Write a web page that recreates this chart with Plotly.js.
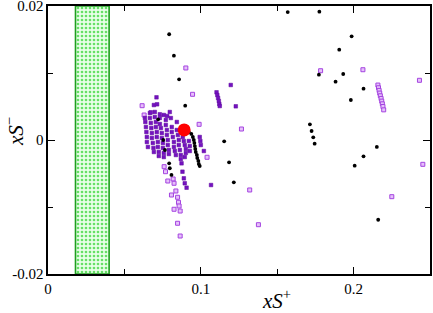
<!DOCTYPE html>
<html><head><meta charset="utf-8">
<script src="https://cdn.plot.ly/plotly-3.0.1.min.js"></script>
<style>body{margin:0;padding:0;background:#fff}#plot{width:433px;height:313px}</style>
</head><body><div id="plot"></div>
<script>
// Excluded band (green hatched rectangle)
var bandX = [0.018, 0.04, 0.04, 0.018, 0.018];
var bandY = [-0.02, -0.02, 0.02, 0.02, -0.02];

// Dense cluster: dark purple filled squares
var darkX = [0.0634,0.0637,0.0641,0.0644,0.0647,0.0647,0.0654,
 0.0667,0.0667,0.0673,0.0676,0.0680,0.0680,0.0686,0.0690,0.0693,
 0.0693,0.0699,0.0699,0.0706,0.0706,0.0712,0.0712,0.0719,0.0719,0.0725,0.0725,
 0.0732,0.0732,0.0739,0.0745,0.0745,0.0752,0.0752,0.0758,0.0758,
 0.0758,0.0771,0.0771,0.0778,0.0778,0.0784,0.0784,0.0791,0.0791,
 0.0797,0.0804,0.0810,0.0810,0.0817,0.0824,0.0824,0.0830,0.0837,
 0.0843,0.0843,0.0850,0.0856,0.0856,0.0863,0.0869,0.0869,
 0.0882,0.0889,0.0895,0.0902,0.0902,0.0895,
 0.0922,0.0928,0.0928,
 0.0993,0.0997,0.1000,0.1020,
 0.0874,0.0880,0.0889,0.0895,0.0907,
 0.0710,0.0714,0.0673,0.0732,0.0780,
 0.1103,0.1108,0.1113,0.1118,0.1121,0.1124,
 0.1196,0.1229,0.1067];
var darkY = [0.00328,0.00269,0.00194,0.00119,0.00045,-0.0003,-0.00104,
 0.00403,0.00328,0.00254,0.00179,0.00104,0.0003,-0.00045,-0.00119,-0.00179,
 0.00522,0.00418,0.00343,0.00269,0.00194,0.00119,0.00045,-0.0003,-0.00104,-0.00179,-0.00239,
 0.00328,0.00239,0.00179,0.00104,0.0003,-0.00045,-0.00119,-0.00194,-0.00254,
 0.00373,0.00299,0.00224,0.00149,0.00075,0.0,-0.00075,-0.00149,-0.00209,
 0.00418,0.00328,0.00194,0.00119,0.00045,-0.0003,-0.00104,-0.00164,-0.00224,
 0.00269,0.00149,0.00075,0.0,-0.00075,-0.00149,-0.00224,-0.00284,
 0.00045,-0.00015,-0.00075,-0.00134,-0.00194,-0.00254,
 -0.00015,-0.0009,-0.00164,
 0.00045,-0.00015,-0.00075,-0.00164,
 -0.00348,-0.00473,-0.00572,-0.00646,-0.00712,
 0.00637,0.00533,0.00413,0.00384,0.00358,
 0.00712,0.00672,0.00627,0.00582,0.00537,0.00507,
 0.00821,0.00503,-0.00672];

// Light purple open squares
var lightX = [0.0616,0.0629,0.0902,0.0946,0.0989,0.1266,0.1041,0.1320,0.1377,
 0.0760,0.0769,0.0784,0.0819,0.0825,0.0837,0.0808,0.0848,0.0854,0.0858,0.0825,0.0865,0.0848,0.0865,
 0.1784,0.2061,0.2431,0.2453,0.2250,
 0.2159,0.2163,0.2167,0.2171,0.2175,0.2180,0.2184,0.2188,0.2192,0.2197];
var lightY = [0.00512,0.00373,0.01075,0.00682,0.00234,0.00164,-0.00258,-0.00746,-0.01264,
 -0.00398,-0.00473,-0.00612,-0.00582,-0.00646,-0.00761,-0.00821,-0.00855,-0.0093,-0.00985,-0.01034,-0.0106,-0.01243,-0.01433,
 0.01034,0.01049,0.00891,-0.00363,-0.00846,
 0.0082,0.0078,0.0074,0.0070,0.0066,0.0062,0.0058,0.0054,0.0050,0.0045];

// Black dots
var blackX = [0.0793,0.0824,0.0858,0.0898,0.1153,0.1185,0.1216,
 0.0721,0.0754,0.0765,0.0793,0.0797,0.0808,
 0.0922,0.0938,0.0948,0.0954,0.0958,0.0961,0.0964,0.0967,0.0974,0.0977,0.0984,0.0987,0.0993,
 0.1569,0.1776,0.1987,0.1906,0.1773,0.1932,0.1882,0.2065,0.1982,
 0.1714,0.1725,0.1736,0.1745,0.2152,0.2065,0.2007,0.2161];
var blackY = [0.01578,0.01258,0.00905,0.00512,-0.0002,-0.00333,-0.00632,
 0.00309,0.0,-0.00149,-0.00348,-0.00422,-0.00522,
 0.00119,0.0009,0.00045,0.0,-0.00045,-0.0009,-0.00134,-0.00179,-0.00224,-0.00269,-0.00313,-0.00358,-0.00388,
 0.0191,0.01915,0.01547,0.01348,0.00975,0.00985,0.0087,0.00766,0.00597,
 0.00234,0.00134,0.0004,-0.00055,-0.00104,-0.00244,-0.00383,-0.0119];

// Reference point
var refX = [0.0891];
var refY = [0.0015];

var xTickVals = [0, 0.1, 0.2];
var xTickText = ['0', '0.1', '0.2'];
var yTickVals = [-0.02, 0, 0.02];
var yTickText = ['-0.02', '0', '0.02'];

var traces = [
 {x: bandX, y: bandY, type: 'scatter', mode: 'lines', fill: 'toself',
  fillcolor: '#e4ffe4',
  fillpattern: {shape: '.', fgcolor: '#66e066', bgcolor: '#e8ffe8', size: 4, solidity: 0.35},
  line: {color: '#1f9e1f', width: 1.6}, hoverinfo: 'skip'},
 {x: lightX, y: lightY, type: 'scatter', mode: 'markers',
  marker: {symbol: 'square', size: 4, color: '#e6c0fa', line: {color: '#a444e0', width: 1}}},
 {x: darkX, y: darkY, type: 'scatter', mode: 'markers',
  marker: {symbol: 'square', size: 3.6, color: '#7412c0', line: {color: '#5e0a9c', width: 0.5}}},
 {x: blackX, y: blackY, type: 'scatter', mode: 'markers',
  marker: {symbol: 'circle', size: 3.8, color: '#000000'}},
 {x: refX, y: refY, type: 'scatter', mode: 'markers',
  marker: {symbol: 'circle', size: 13, color: '#ff0000'}}
];

var axisCommon = {
 showgrid: false, zeroline: false, showline: true, linecolor: '#000', linewidth: 1.6,
 mirror: 'ticks', ticks: 'inside', ticklen: 7, tickwidth: 1, tickcolor: '#000',
 ticklabeloverflow: 'allow',
 tickfont: {family: 'Liberation Serif, Times New Roman, serif', size: 15, color: '#000'}
};

var layout = {
 width: 433, height: 313,
 margin: {l: 48, r: 3, t: 6, b: 39},
 paper_bgcolor: '#fff', plot_bgcolor: '#fff',
 showlegend: false,
 xaxis: Object.assign({}, axisCommon, {range: [0, 0.25], tickmode: 'array', tickvals: xTickVals, ticktext: xTickText,
   minor: {tickvals: [0.05, 0.15], ticks: 'inside', ticklen: 5, tickcolor: '#000', tickwidth: 1}}),
 yaxis: Object.assign({}, axisCommon, {range: [-0.02, 0.02], tickmode: 'array', tickvals: yTickVals, ticktext: yTickText,
   minor: {tickvals: [-0.01, 0.01], ticks: 'inside', ticklen: 5, tickcolor: '#000', tickwidth: 1}}),
 annotations: [
  {text: '<i>xS</i><sup>+</sup>', xref: 'paper', yref: 'paper', x: 0.597, y: -0.097,
   xanchor: 'center', yanchor: 'middle', showarrow: false,
   font: {family: 'Liberation Serif, Times New Roman, serif', size: 21, color: '#000'}},
  {text: '<i>xS</i><sup>\u2212</sup>', xref: 'paper', yref: 'paper', x: -0.086, y: 0.53,
   xanchor: 'center', yanchor: 'middle', textangle: -90, showarrow: false,
   font: {family: 'Liberation Serif, Times New Roman, serif', size: 21, color: '#000'}}
 ]
};

Plotly.newPlot('plot', traces, layout, {staticPlot: true, displayModeBar: false});
</script></body></html>
